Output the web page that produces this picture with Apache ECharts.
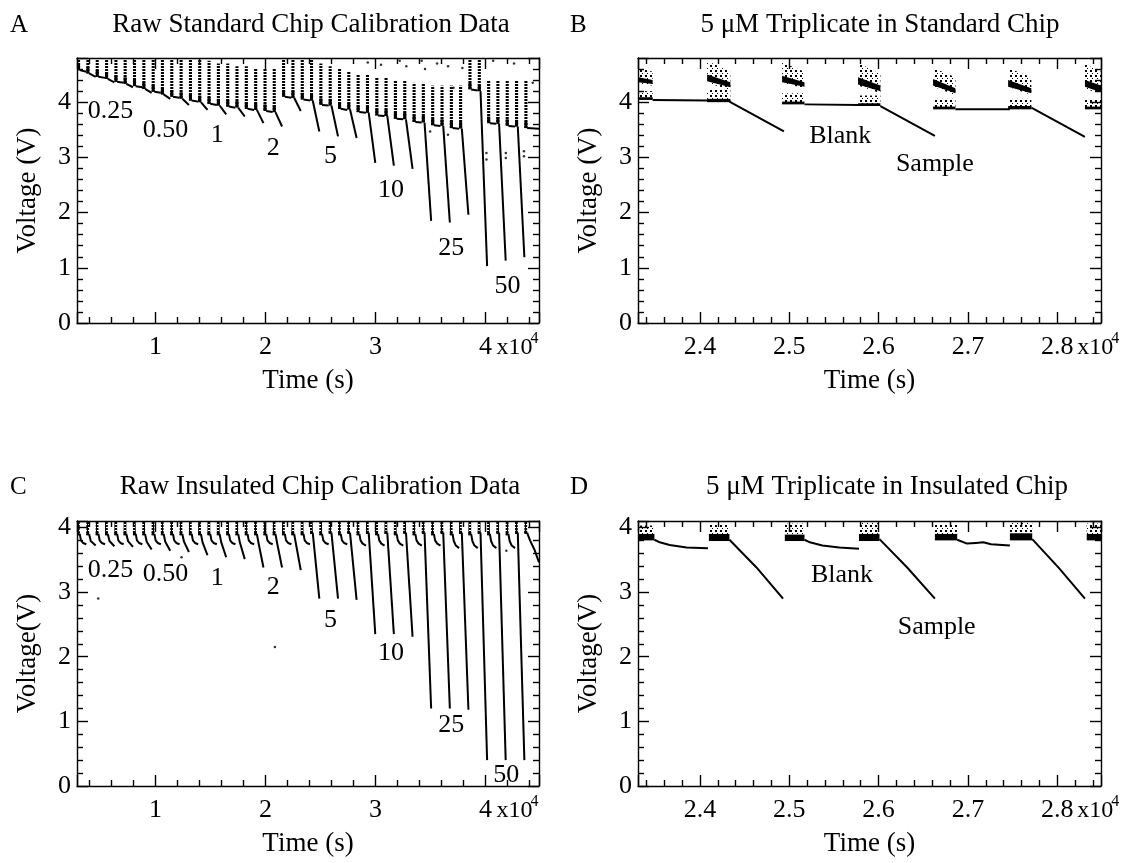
<!DOCTYPE html>
<html><head><meta charset="utf-8">
<script src="https://cdn.jsdelivr.net/npm/echarts@6/dist/echarts.min.js"></script>
<style>html,body{margin:0;padding:0;background:#fff}#c{width:1131px;height:863px}</style>
</head><body><div id="c"></div>
<script>
// ================= DATA (time in units of 10^4 s, voltage in V) =================
const panelLetters = ['A', 'B', 'C', 'D'];
const panelTitles = ['Raw Standard Chip Calibration Data', '5 \u03bcM Triplicate in Standard Chip',
  'Raw Insulated Chip Calibration Data', '5 \u03bcM Triplicate in Insulated Chip'];
const xAxisName = 'Time (s)';
const yAxisNames = ['Voltage (V)', 'Voltage (V)', 'Voltage(V)', 'Voltage(V)'];
const xRanges = [[0.285, 4.487], [2.3306, 2.849], [0.285, 4.487], [2.3306, 2.849]];
const xSteps = [1, 0.1, 1, 0.1];
const yRanges = [[0, 4.8], [0, 4.8], [0, 4.1], [0, 4.1]];
const xExponentLabel = ['x10', '4'];

// Panel A: measurement traces (one segment per blank/sample cycle)
const A_trace = [
  [[0.310,4.58],[0.370,4.55]], [[0.395,4.52],[0.455,4.46]], [[0.480,4.46],[0.540,4.44]], [[0.565,4.42],[0.625,4.36]],
  [[0.650,4.37],[0.709,4.35]], [[0.734,4.33],[0.794,4.27]], [[0.819,4.29],[0.879,4.27]], [[0.904,4.24],[0.964,4.17]],
  [[0.989,4.19],[1.048,4.17]], [[1.073,4.14],[1.133,4.06]], [[1.158,4.10],[1.218,4.08]], [[1.243,4.06],[1.303,3.95]],
  [[1.328,4.03],[1.387,4.01]], [[1.412,4.00],[1.472,3.86]], [[1.497,3.97],[1.557,3.95]], [[1.582,3.94],[1.642,3.78]],
  [[1.667,3.92],[1.726,3.90]], [[1.751,3.90],[1.811,3.74]], [[1.836,3.88],[1.896,3.86]], [[1.921,3.86],[1.981,3.62]],
  [[2.006,3.84],[2.065,3.82]], [[2.090,3.82],[2.150,3.56]], [[2.175,4.10],[2.235,4.08]], [[2.260,4.08],[2.320,3.84]],
  [[2.345,4.05],[2.404,4.03]], [[2.429,4.03],[2.489,3.47]], [[2.514,3.95],[2.574,3.94]], [[2.599,3.94],[2.659,3.38]],
  [[2.684,3.88],[2.743,3.86]], [[2.768,3.87],[2.828,3.35]], [[2.853,3.82],[2.913,3.81]], [[2.938,3.81],[2.998,2.90]],
  [[3.023,3.76],[3.082,3.75]], [[3.107,3.75],[3.167,2.85]], [[3.192,3.70],[3.252,3.69]], [[3.277,3.69],[3.337,2.79]],
  [[3.362,3.64],[3.421,3.63]], [[3.446,3.63],[3.506,1.85]], [[3.531,3.58],[3.591,3.57]], [[3.616,3.57],[3.676,1.82]],
  [[3.701,3.53],[3.760,3.52]], [[3.785,3.52],[3.845,1.96]], [[3.870,4.23],[3.930,4.21]], [[3.955,4.20],[4.015,1.03]],
  [[4.040,3.62],[4.099,3.61]], [[4.124,3.61],[4.184,1.13]], [[4.209,3.57],[4.269,3.56]], [[4.294,3.56],[4.354,1.19]],
  [[4.379,3.53],[4.487,3.52]]
];
// Panel A: noise streaks [tStart, tEnd, vBottom, vTop]
const A_noise = [
  [0.285,0.313,4.58,4.8],[0.370,0.398,4.52,4.8],[0.455,0.483,4.46,4.8],[0.540,0.568,4.42,4.8],
  [0.625,0.653,4.37,4.8],[0.709,0.737,4.33,4.8],[0.794,0.822,4.29,4.8],[0.879,0.907,4.24,4.8],
  [0.964,0.992,4.19,4.8],[1.048,1.076,4.14,4.8],[1.133,1.161,4.10,4.8],[1.218,1.246,4.06,4.8],
  [1.303,1.331,4.03,4.8],[1.387,1.415,4.00,4.8],[1.472,1.500,3.97,4.75],[1.557,1.585,3.94,4.7],
  [1.642,1.670,3.92,4.7],[1.726,1.754,3.90,4.65],[1.811,1.839,3.88,4.65],[1.896,1.924,3.86,4.6],
  [1.981,2.009,3.84,4.6],[2.065,2.093,3.82,4.6],[2.150,2.178,4.10,4.8],[2.235,2.263,4.08,4.8],
  [2.320,2.348,4.05,4.8],[2.404,2.432,4.03,4.8],[2.489,2.517,3.95,4.7],[2.574,2.602,3.94,4.65],
  [2.659,2.687,3.88,4.6],[2.743,2.771,3.87,4.55],[2.828,2.856,3.82,4.5],[2.913,2.941,3.81,4.5],
  [2.998,3.026,3.76,4.45],[3.082,3.110,3.75,4.45],[3.167,3.195,3.70,4.4],[3.252,3.280,3.69,4.4],
  [3.337,3.365,3.64,4.35],[3.421,3.449,3.63,4.35],[3.506,3.534,3.58,4.3],[3.591,3.619,3.57,4.3],
  [3.676,3.704,3.53,4.3],[3.760,3.788,3.52,4.3],[3.845,3.873,4.23,4.8],[3.930,3.958,4.20,4.8],
  [4.015,4.043,3.62,4.4],[4.099,4.127,3.61,4.4],[4.184,4.212,3.57,4.4],[4.269,4.297,3.56,4.4],
  [4.354,4.382,3.53,4.4]
];
const A_dots = [[4.009,3.08],[4.009,2.96],[4.185,3.08],[4.185,2.99],[4.35,3.11],[4.35,3.02],[3.497,3.47],[3.659,3.41],
  [3.22,4.75],[3.28,4.65],[3.42,4.75],[3.45,4.6],[3.66,4.65],[3.71,4.26],[4.07,4.75],[4.43,4.35],
  [2.93,4.72],[3.05,4.68],[3.56,4.7],[3.79,4.62],[4.26,4.7]];
const A_labels = [['0.25',0.59,3.84],['0.50',1.09,3.50],['1',1.56,3.41],['2',2.07,3.17],
  ['5',2.59,3.02],['10',3.14,2.41],['25',3.69,1.36],['50',4.20,0.67]];

// Panel B
const B_trace = [
  [[2.347,4.04],[2.409,4.03]], [[2.433,4.01],[2.494,3.47]], [[2.517,3.96],[2.579,3.95]],
  [[2.602,3.93],[2.663,3.39]], [[2.686,3.87],[2.747,3.87]], [[2.771,3.90],[2.831,3.37]]
];
const B_clusterT = [[2.331,2.347],[2.408,2.434],[2.492,2.517],[2.577,2.602],[2.661,2.686],[2.745,2.771],[2.831,2.849]];
// upper scattered band [topLeft, topRight, bottomLeft, bottomRight]
const B_upperSparse = [[4.62,4.55,4.33,4.30],[4.75,4.55,4.35,4.22],[4.72,4.55,4.35,4.25],[4.72,4.50,4.30,4.16],
  [4.62,4.45,4.28,4.13],[4.62,4.45,4.28,4.13],[4.69,4.55,4.25,4.14]];
// upper dense core [topLeft, bottomLeft, topRight, bottomRight]
const B_upperCore = [[4.45,4.36,4.40,4.33],[4.50,4.38,4.36,4.27],[4.48,4.36,4.36,4.28],[4.45,4.32,4.30,4.20],
  [4.42,4.30,4.25,4.16],[4.40,4.28,4.25,4.16],[4.40,4.28,4.30,4.18]];
const B_lowerSparse = [[4.04,4.20],[4.00,4.22],[3.96,4.16],[3.93,4.12],[3.87,4.06],[3.87,4.06],[3.87,4.05]];
const B_lowerDense = [[4.04,4.09],[4.00,4.06],[3.96,4.01],[3.93,3.98],[3.87,3.92],[3.87,3.93],[3.87,3.92]];
const B_labels = [['Blank',2.557,3.38],['Sample',2.663,2.87]];

// Panel C
const C_trace = [
  [[0.310,3.90],[0.321,3.80],[0.340,3.76],[0.370,3.74]], [[0.395,3.90],[0.410,3.79],[0.455,3.72]],
  [[0.480,3.90],[0.491,3.80],[0.510,3.76],[0.540,3.74]], [[0.565,3.90],[0.580,3.79],[0.625,3.71]],
  [[0.650,3.90],[0.661,3.80],[0.680,3.76],[0.709,3.74]], [[0.734,3.90],[0.749,3.79],[0.794,3.70]],
  [[0.819,3.90],[0.830,3.80],[0.849,3.76],[0.879,3.74]], [[0.904,3.90],[0.919,3.78],[0.964,3.66]],
  [[0.989,3.90],[1.000,3.80],[1.019,3.76],[1.048,3.74]], [[1.073,3.90],[1.088,3.78],[1.133,3.64]],
  [[1.158,3.90],[1.169,3.80],[1.188,3.76],[1.218,3.74]], [[1.243,3.90],[1.258,3.78],[1.303,3.62]],
  [[1.328,3.90],[1.339,3.80],[1.358,3.76],[1.387,3.74]], [[1.412,3.90],[1.427,3.77],[1.472,3.57]],
  [[1.497,3.90],[1.508,3.80],[1.527,3.76],[1.557,3.74]], [[1.582,3.90],[1.597,3.77],[1.642,3.54]],
  [[1.667,3.90],[1.678,3.80],[1.697,3.76],[1.726,3.74]], [[1.751,3.90],[1.766,3.77],[1.811,3.51]],
  [[1.836,3.90],[1.847,3.80],[1.866,3.76],[1.896,3.74]], [[1.921,3.90],[1.936,3.76],[1.981,3.38]],
  [[2.006,3.90],[2.017,3.80],[2.036,3.76],[2.065,3.74]], [[2.090,3.90],[2.105,3.76],[2.150,3.38]],
  [[2.175,3.90],[2.186,3.80],[2.205,3.76],[2.235,3.74]], [[2.260,3.90],[2.275,3.76],[2.320,3.34]],
  [[2.345,3.90],[2.356,3.80],[2.375,3.76],[2.404,3.74]], [[2.429,3.92],[2.489,2.90]],
  [[2.514,3.90],[2.525,3.80],[2.544,3.76],[2.574,3.74]], [[2.599,3.92],[2.659,2.90]],
  [[2.684,3.90],[2.695,3.80],[2.714,3.76],[2.743,3.74]], [[2.768,3.92],[2.828,2.88]],
  [[2.853,3.90],[2.864,3.80],[2.883,3.75],[2.913,3.72]], [[2.938,3.92],[2.998,2.35]],
  [[3.023,3.90],[3.034,3.80],[3.053,3.75],[3.082,3.72]], [[3.107,3.92],[3.167,2.35]],
  [[3.192,3.90],[3.203,3.80],[3.222,3.75],[3.252,3.72]], [[3.277,3.92],[3.337,2.31]],
  [[3.362,3.90],[3.373,3.80],[3.392,3.75],[3.421,3.72]], [[3.446,3.92],[3.506,1.20]],
  [[3.531,3.90],[3.542,3.80],[3.561,3.75],[3.591,3.72]], [[3.616,3.92],[3.676,1.20]],
  [[3.701,3.90],[3.712,3.79],[3.731,3.72],[3.760,3.68]], [[3.785,3.92],[3.845,1.18]],
  [[3.870,3.90],[3.881,3.79],[3.900,3.72],[3.930,3.68]], [[3.955,3.92],[4.015,0.40]],
  [[4.040,3.90],[4.051,3.79],[4.070,3.72],[4.099,3.68]], [[4.124,3.92],[4.184,0.40]],
  [[4.209,3.90],[4.220,3.79],[4.239,3.72],[4.269,3.68]], [[4.294,3.92],[4.354,0.40]],
  [[4.379,3.92],[4.405,3.80],[4.445,3.66],[4.487,3.46]]
];
// Panel C noise columns [tStart, tEnd, vBottom, vTop]
const C_noise = [
  [0.285,0.310,3.88,4.1],[0.370,0.395,3.88,4.1],[0.455,0.480,3.88,4.1],[0.540,0.565,3.88,4.1],
  [0.625,0.650,3.88,4.1],[0.709,0.734,3.88,4.1],[0.794,0.819,3.88,4.1],[0.879,0.904,3.88,4.1],
  [0.964,0.989,3.88,4.1],[1.048,1.073,3.88,4.1],[1.133,1.158,3.88,4.1],[1.218,1.243,3.88,4.1],
  [1.303,1.328,3.88,4.1],[1.387,1.412,3.88,4.1],[1.472,1.497,3.88,4.1],[1.557,1.582,3.88,4.1],
  [1.642,1.667,3.88,4.1],[1.726,1.751,3.88,4.1],[1.811,1.836,3.88,4.1],[1.896,1.921,3.88,4.1],
  [1.981,2.006,3.88,4.1],[2.065,2.090,3.88,4.1],[2.150,2.175,3.88,4.1],[2.235,2.260,3.88,4.1],
  [2.320,2.345,3.88,4.1],[2.404,2.429,3.90,4.1],[2.489,2.514,3.88,4.1],[2.574,2.599,3.90,4.1],
  [2.659,2.684,3.88,4.1],[2.743,2.768,3.90,4.1],[2.828,2.853,3.88,4.1],[2.913,2.938,3.90,4.1],
  [2.998,3.023,3.88,4.1],[3.082,3.107,3.90,4.1],[3.167,3.192,3.88,4.1],[3.252,3.277,3.90,4.1],
  [3.337,3.362,3.88,4.1],[3.421,3.446,3.90,4.1],[3.506,3.531,3.88,4.1],[3.591,3.616,3.90,4.1],
  [3.676,3.701,3.88,4.1],[3.760,3.785,3.90,4.1],[3.845,3.870,3.88,4.1],[3.930,3.955,3.90,4.1],
  [4.015,4.040,3.88,4.1],[4.099,4.124,3.90,4.1],[4.184,4.209,3.88,4.1],[4.269,4.294,3.90,4.1],
  [4.354,4.379,3.90,4.1]
];
const C_dots = [[0.478,2.90],[2.085,2.15],[1.236,3.54],[4.19,3.64]];
const C_labels = [['0.25',0.59,3.34],['0.50',1.09,3.28],['1',1.56,3.21],['2',2.07,3.07],
  ['5',2.59,2.56],['10',3.14,2.05],['25',3.69,0.94],['50',4.19,0.16]];

// Panel D
const D_trace = [
  [[2.349,3.81],[2.355,3.77],[2.366,3.73],[2.385,3.69],[2.409,3.68]],
  [[2.433,3.81],[2.463,3.385],[2.493,2.90]],
  [[2.517,3.81],[2.523,3.77],[2.537,3.72],[2.556,3.69],[2.578,3.67]],
  [[2.601,3.82],[2.632,3.38],[2.663,2.90]],
  [[2.688,3.81],[2.699,3.75],[2.709,3.76],[2.717,3.77],[2.726,3.74],[2.747,3.72]],
  [[2.772,3.82],[2.802,3.37],[2.831,2.90]]
];
const D_clusterT = [[2.330,2.349],[2.410,2.433],[2.495,2.517],[2.578,2.601],[2.663,2.688],[2.747,2.772],[2.833,2.849]];
const D_dense = [[3.80,3.90],[3.79,3.90],[3.79,3.89],[3.79,3.90],[3.80,3.90],[3.80,3.91],[3.80,3.90]];
const D_sparseTop = [4.03,4.05,4.06,4.07,4.05,4.08,4.06];
const D_labels = [['Blank',2.559,3.26],['Sample',2.665,2.46]];

// ================= RENDERING =================
const FONT = '"Liberation Serif", "Times New Roman", serif';
const TICK_FS = 26, NAME_FS = 27, TITLE_FS = 27, ANNOT_FS = 26;
const grids = [
  {left: 77, top: 58, width: 462, height: 265},
  {left: 638, top: 58, width: 463, height: 265},
  {left: 77, top: 521, width: 462, height: 265},
  {left: 638, top: 521, width: 463, height: 265}
];

function makePattern(w, h, rects) {
  const c = document.createElement('canvas');
  c.width = w; c.height = h;
  const g = c.getContext('2d');
  g.fillStyle = '#000';
  rects.forEach(r => g.fillRect(r[0], r[1], r[2], r[3]));
  return {image: c, repeat: 'repeat'};
}
const PAT_DASH = makePattern(1, 3, [[0, 0, 1, 2]]);
const PAT_SPARSE = makePattern(5, 5, [[0, 0, 2, 2], [2, 3, 1, 1]]);
const PAT_DENSE = makePattern(3, 3, [[0, 0, 3, 2], [0, 2, 1, 1]]);

function rectOf(api, t0, t1, vb, vt) {
  const p0 = api.coord([t0, vt]), p1 = api.coord([t1, vb]);
  return {x: p0[0], y: p0[1], width: p1[0] - p0[0], height: p1[1] - p0[1]};
}

function traceSeries(idx, segs) {
  return {
    type: 'custom', xAxisIndex: idx, yAxisIndex: idx, clip: true, silent: true,
    data: segs.map(s => s[0]),
    renderItem: (params, api) => ({
      type: 'polyline',
      shape: {points: segs[params.dataIndex].map(p => api.coord(p))},
      style: {stroke: '#000', lineWidth: 2, fill: null, lineJoin: 'round'}
    })
  };
}
function columnNoiseSeries(idx, cols, pat, denseH) {
  return {
    type: 'custom', xAxisIndex: idx, yAxisIndex: idx, clip: true, silent: true,
    data: cols,
    renderItem: (params, api) => {
      const t0 = api.value(0), t1 = api.value(1), vb = api.value(2), vt = api.value(3);
      const children = [{type: 'rect', shape: rectOf(api, t0, t1, vb, vt), style: {fill: pat}}];
      if (denseH > 0) children.push({type: 'rect', shape: rectOf(api, t0, t1, vb, vb + denseH), style: {fill: '#000'}});
      return {type: 'group', children};
    }
  };
}
function clusterSeriesB(idx) {
  return {
    type: 'custom', xAxisIndex: idx, yAxisIndex: idx, clip: true, silent: true,
    data: B_clusterT.map((t, i) => [t[0], B_lowerSparse[i][0]]),
    renderItem: (params, api) => {
      const i = params.dataIndex, t0 = B_clusterT[i][0], t1 = B_clusterT[i][1];
      const us = B_upperSparse[i], uc = B_upperCore[i], ls = B_lowerSparse[i], ld = B_lowerDense[i];
      return {type: 'group', children: [
        {type: 'polygon', shape: {points: [api.coord([t0, us[0]]), api.coord([t1, us[1]]), api.coord([t1, us[3]]), api.coord([t0, us[2]])]}, style: {fill: PAT_SPARSE}},
        {type: 'polygon', shape: {points: [api.coord([t0, uc[0]]), api.coord([t1, uc[2]]), api.coord([t1, uc[3]]), api.coord([t0, uc[1]])]}, style: {fill: '#000'}},
        {type: 'rect', shape: rectOf(api, t0, t1, ls[0], ls[1]), style: {fill: PAT_SPARSE}},
        {type: 'rect', shape: rectOf(api, t0, t1, ld[0], ld[1]), style: {fill: '#000'}}
      ]};
    }
  };
}
function clusterSeriesD(idx) {
  return {
    type: 'custom', xAxisIndex: idx, yAxisIndex: idx, clip: true, silent: true,
    data: D_clusterT.map((t, i) => [t[0], D_dense[i][0]]),
    renderItem: (params, api) => {
      const i = params.dataIndex, t0 = D_clusterT[i][0], t1 = D_clusterT[i][1];
      return {type: 'group', children: [
        {type: 'rect', shape: rectOf(api, t0, t1, D_dense[i][1], D_sparseTop[i]), style: {fill: PAT_SPARSE}},
        {type: 'rect', shape: rectOf(api, t0, t1, D_dense[i][0], D_dense[i][1]), style: {fill: '#000'}}
      ]};
    }
  };
}
function labelSeries(idx, labels) {
  return {
    type: 'custom', xAxisIndex: idx, yAxisIndex: idx, silent: true,
    data: labels.map(l => [l[1], l[2]]),
    renderItem: (params, api) => {
      const p = api.coord([api.value(0), api.value(1)]);
      return {type: 'text', x: p[0], y: p[1], style: {text: labels[params.dataIndex][0], fill: '#000',
        font: ANNOT_FS + 'px ' + FONT, align: 'center', verticalAlign: 'middle'}};
    }
  };
}
function dotSeries(idx, pts) {
  return {type: 'scatter', xAxisIndex: idx, yAxisIndex: idx, silent: true, symbol: 'circle', symbolSize: 2.5,
    itemStyle: {color: '#000'}, data: pts};
}

const lineStyle = {color: '#000', width: 1.4};
function baseAxis(extra) {
  return Object.assign({
    type: 'value',
    axisLine: {show: true, onZero: false, lineStyle},
    axisTick: {show: true, inside: true, length: 11, lineStyle},
    minorTick: {show: true, splitNumber: 5, length: 6, lineStyle},
    splitLine: {show: false}, minorSplitLine: {show: false}
  }, extra);
}
const xAxes = [], yAxes = [];
for (let i = 0; i < 4; i++) {
  const step = xSteps[i];
  const common = {gridIndex: i, min: xRanges[i][0], max: xRanges[i][1], minInterval: step, maxInterval: step};
  xAxes.push(baseAxis(Object.assign({}, common, {
    position: 'bottom', name: xAxisName, nameLocation: 'middle', nameGap: 44,
    nameTextStyle: {fontFamily: FONT, fontSize: NAME_FS, color: '#000'},
    axisLabel: {show: true, margin: 11, fontFamily: FONT, fontSize: TICK_FS, color: '#000',
      showMinLabel: false, showMaxLabel: false,
      formatter: v => {
        const r = v / step;
        if (Math.abs(r - Math.round(r)) > 1e-6) return '';
        return step < 1 ? v.toFixed(1) : String(Math.round(v));
      }}
  })));
}
for (let i = 0; i < 4; i++) {
  const step = xSteps[i];
  xAxes.push(baseAxis({gridIndex: i, position: 'top', min: xRanges[i][0], max: xRanges[i][1],
    minInterval: step, maxInterval: step, axisLabel: {show: false}}));
}
for (let i = 0; i < 4; i++) {
  const common = {gridIndex: i, min: yRanges[i][0], max: yRanges[i][1], minInterval: 1, maxInterval: 1};
  yAxes.push(baseAxis(Object.assign({}, common, {
    position: 'left', name: yAxisNames[i], nameLocation: 'middle', nameGap: 36, nameRotate: 90,
    nameTextStyle: {fontFamily: FONT, fontSize: NAME_FS, color: '#000'},
    axisLabel: {show: true, margin: 6, fontFamily: FONT, fontSize: TICK_FS, color: '#000', showMaxLabel: false,
      formatter: v => (Math.abs(v - Math.round(v)) > 1e-6 ? '' : String(Math.round(v)))}
  })));
}
for (let i = 0; i < 4; i++) {
  yAxes.push(baseAxis({gridIndex: i, position: 'right', min: yRanges[i][0], max: yRanges[i][1],
    minInterval: 1, maxInterval: 1, axisLabel: {show: false}}));
}

const series = [
  columnNoiseSeries(0, A_noise, PAT_DASH, 0.12), traceSeries(0, A_trace), dotSeries(0, A_dots), labelSeries(0, A_labels),
  clusterSeriesB(1), traceSeries(1, B_trace), labelSeries(1, B_labels),
  columnNoiseSeries(2, C_noise, PAT_DENSE, 0.05), traceSeries(2, C_trace), dotSeries(2, C_dots), labelSeries(2, C_labels),
  clusterSeriesD(3), traceSeries(3, D_trace), labelSeries(3, D_labels)
];

const chart = echarts.init(document.getElementById('c'), null, {renderer: 'canvas'});
chart.setOption({
  animation: false, backgroundColor: '#fff',
  grid: grids.map(g => Object.assign({containLabel: false}, g)),
  xAxis: xAxes, yAxis: yAxes, series
});

// titles, panel letters and the x10^4 exponent
function txt(x, y, text, size, align) {
  return {type: 'text', x, y, silent: true, style: {text, fill: '#000', font: size + 'px ' + FONT,
    align: align || 'center', verticalAlign: 'middle', textAlign: align || 'center', textVerticalAlign: 'middle'}};
}
const letterPos = [[10, 25], [570, 25], [10, 487], [570, 487]];
const titlePos = [[311, 25], [880, 25], [320, 487], [887, 487]];
const graphics = [];
for (let i = 0; i < 4; i++) {
  graphics.push(txt(letterPos[i][0], letterPos[i][1], panelLetters[i], 25, 'left'));
  graphics.push(txt(titlePos[i][0], titlePos[i][1], panelTitles[i], TITLE_FS, 'center'));
  const lastTick = xSteps[i] < 1 ? 2.8 : 4;
  const px = chart.convertToPixel({xAxisIndex: i}, lastTick);
  const yLab = grids[i].top + grids[i].height + 25;
  const off = xSteps[i] < 1 ? 20 : 11;
  graphics.push(txt(px + off, yLab, xExponentLabel[0], 24, 'left'));
  graphics.push(txt(px + off + 34, yLab - 9, xExponentLabel[1], 16, 'left'));
}
chart.setOption({graphic: graphics});
</script>
</body></html>
